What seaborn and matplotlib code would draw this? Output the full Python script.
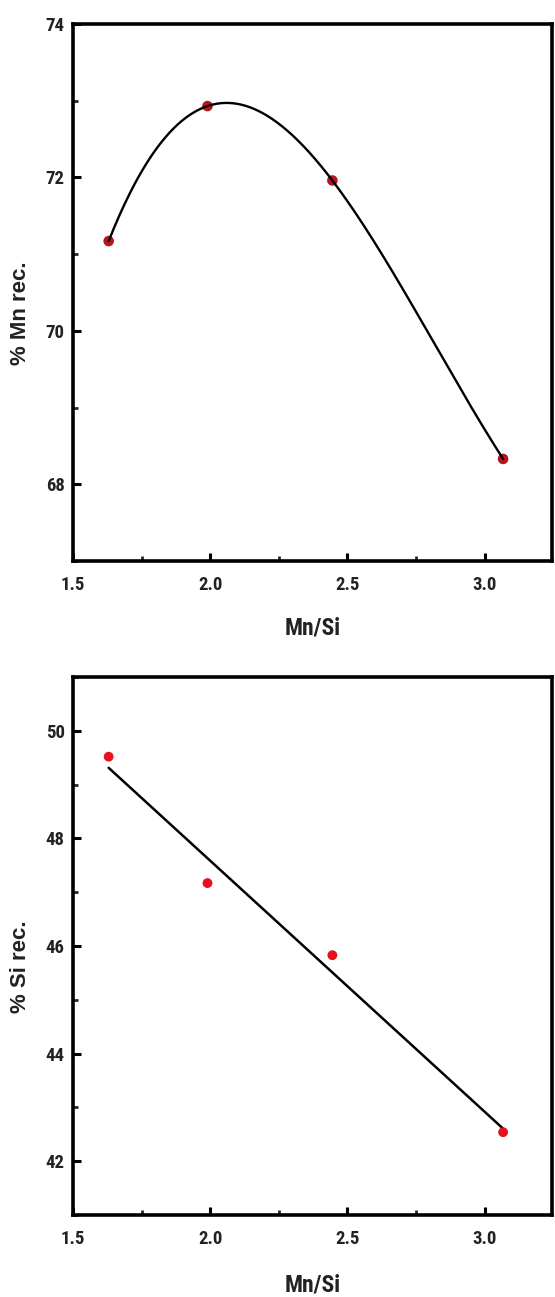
import numpy as np
import pandas as pd
import matplotlib
matplotlib.use("Agg")
import matplotlib.pyplot as plt
import seaborn as sns
from matplotlib import font_manager as fm
from matplotlib.ticker import MultipleLocator

# ---- data ----
mn_si = [1.63, 1.99, 2.445, 3.067]
mn_rec = [71.17, 72.93, 71.96, 68.33]
si_rec = [49.52, 47.17, 45.83, 42.54]

top_yticks = [68, 70, 72, 74]
bot_yticks = [42, 44, 46, 48, 50]
xticks = [1.5, 2.0, 2.5, 3.0]

sns.set_theme(style="ticks")
names = {f.name for f in fm.fontManager.ttflist}
narrow = None
for cand in ["Liberation Sans Narrow", "Arial Narrow", "Roboto Condensed",
             "DejaVu Sans Condensed", "Open Sans Condensed"]:
    if cand in names:
        narrow = cand
        break
stretch = "normal"
if narrow is None:
    narrow = "Liberation Sans"
    for f in fm.fontManager.ttflist:
        if f.stretch in ("condensed", "semi-condensed") and f.name in ("DejaVu Sans", "Roboto", "Open Sans", "Noto Sans"):
            narrow = f.name
            stretch = "condensed"
            break
plt.rcParams["font.family"] = [narrow, "DejaVu Sans"]
plt.rcParams["font.stretch"] = stretch

fig = plt.figure(figsize=(5.55, 12.97), dpi=100)
ax1 = fig.add_axes([0.1315, 0.5675, 0.863, 0.414])
ax2 = fig.add_axes([0.1315, 0.0632, 0.863, 0.4148])

df = pd.DataFrame({"x": mn_si, "mn": mn_rec, "si": si_rec})

# top: smooth cubic through the points
c3 = np.polyfit(df["x"], df["mn"], 3)
xs = np.linspace(min(mn_si), max(mn_si), 300)
sns.scatterplot(data=df, x="x", y="mn", ax=ax1, color="#b8141f", s=58,
                edgecolor="none", zorder=2)
sns.lineplot(x=xs, y=np.polyval(c3, xs), ax=ax1, color="black", lw=1.7, zorder=3)

# bottom: linear fit
c1 = np.polyfit(df["x"], df["si"], 1)
xl = np.array([min(mn_si), max(mn_si)])
sns.lineplot(x=xl, y=np.polyval(c1, xl), ax=ax2, color="black", lw=1.8, zorder=2)
sns.scatterplot(data=df, x="x", y="si", ax=ax2, color="#e8101e", s=50,
                edgecolor="none", zorder=5)

for ax, yt, ylim, ylab in [(ax1, top_yticks, (67, 74), "% Mn rec."),
                           (ax2, bot_yticks, (41, 51), "% Si rec.")]:
    ax.set_xlim(1.5, 3.245)
    ax.set_ylim(*ylim)
    ax.set_xticks(xticks)
    ax.set_xticklabels([f"{v:.1f}" for v in xticks])
    ax.set_yticks(yt)
    ax.set_yticklabels([str(v) for v in yt])
    ax.xaxis.set_minor_locator(MultipleLocator(0.25))
    ax.yaxis.set_minor_locator(MultipleLocator(1))
    ax.tick_params(which="major", direction="in", length=6, width=2.2,
                   labelsize=13.5, color="black")
    ax.tick_params(axis="x", which="major", pad=11)
    ax.tick_params(axis="y", which="major", pad=6)
    ax.tick_params(which="minor", direction="in", length=3.5, width=2.0)
    for lab in ax.get_xticklabels() + ax.get_yticklabels():
        lab.set_fontweight("bold")
        lab.set_color("#222222")
    for sp in ax.spines.values():
        sp.set_linewidth(2.6)
        sp.set_color("black")
    ax.set_xlabel("Mn/Si", fontsize=17, fontweight="bold", color="#222222")
    ax.set_ylabel(ylab, fontsize=16, fontweight="bold", color="#222222",
                  family=["Liberation Sans", "DejaVu Sans"], fontstretch="normal")
    ax.yaxis.set_label_coords(-0.088, 0.462)

ax1.xaxis.set_label_coords(0.5, -0.104)
ax2.xaxis.set_label_coords(0.5, -0.108)
ax1.xaxis.label.set_va("top")
ax2.xaxis.label.set_va("top")

fig.savefig("out.png", dpi=100, facecolor="white")
